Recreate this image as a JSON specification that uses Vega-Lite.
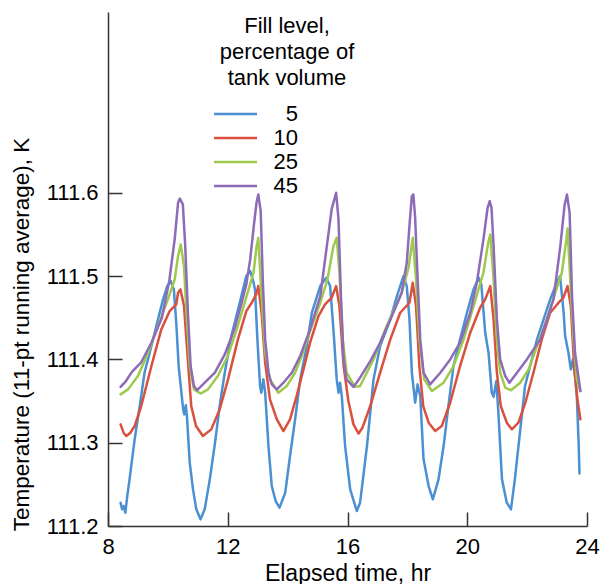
{
  "$schema": "https://vega.github.io/schema/vega-lite/v6.json",
  "width": 479,
  "height": 514,
  "autosize": {"type": "none"},
  "padding": {"left": 108, "top": 12, "right": 15, "bottom": 58},
  "background": "white",
  "config": {"view": {"stroke": null}, "font": "Liberation Sans"},
  "data": {
    "values": [
      {"f": "5",
       "t": [8.42,8.47,8.52,8.58,8.64,8.72,8.89,9.06,9.22,9.45,9.67,9.84,9.98,10.09,10.2,10.28,10.36,10.43,10.51,10.55,10.6,10.64,10.73,10.84,10.95,11.09,11.23,11.4,11.56,11.73,11.9,12.12,12.4,12.62,12.75,12.85,12.91,12.99,13.08,13.12,13.19,13.25,13.36,13.47,13.6,13.73,13.92,14.08,14.25,14.42,14.64,14.81,15.09,15.29,15.42,15.53,15.64,15.7,15.75,15.81,15.92,16.09,16.31,16.42,16.65,16.87,17.09,17.43,17.65,17.87,17.98,18.07,18.15,18.26,18.34,18.43,18.54,18.71,18.85,19.04,19.21,19.37,19.54,19.76,19.99,20.21,20.38,20.47,20.6,20.71,20.82,20.88,20.97,21.04,21.16,21.32,21.46,21.59,21.76,21.93,22.1,22.33,22.55,22.77,22.99,23.1,23.22,23.27,23.38,23.46,23.53,23.6,23.66,23.72,23.75],
       "T": [111.228,111.22,111.224,111.216,111.235,111.256,111.304,111.344,111.384,111.416,111.448,111.472,111.488,111.494,111.484,111.444,111.392,111.368,111.34,111.334,111.345,111.33,111.276,111.244,111.22,111.208,111.22,111.256,111.296,111.344,111.384,111.428,111.468,111.5,111.506,111.494,111.484,111.424,111.368,111.36,111.376,111.36,111.296,111.248,111.23,111.222,111.24,111.284,111.328,111.376,111.416,111.456,111.488,111.498,111.488,111.436,111.376,111.36,111.372,111.356,111.296,111.244,111.218,111.228,111.296,111.376,111.416,111.448,111.476,111.5,111.488,111.448,111.384,111.348,111.37,111.356,111.28,111.248,111.232,111.256,111.296,111.344,111.392,111.424,111.456,111.484,111.498,111.49,111.432,111.408,111.36,111.355,111.374,111.336,111.256,111.228,111.22,111.256,111.312,111.368,111.392,111.424,111.448,111.472,111.492,111.5,111.456,111.428,111.408,111.388,111.4,111.38,111.356,111.3,111.263]},
      {"f": "10",
       "t": [8.42,8.52,8.61,8.75,8.89,9.11,9.45,9.78,10.06,10.28,10.34,10.42,10.54,10.65,10.78,10.94,11.17,11.45,11.73,12.01,12.34,12.62,12.8,12.95,13.02,13.13,13.25,13.41,13.64,13.86,14.08,14.3,14.53,14.75,15.03,15.25,15.47,15.62,15.73,15.87,16.03,16.2,16.37,16.5,16.76,17.09,17.43,17.76,18.07,18.18,18.29,18.4,18.53,18.71,18.93,19.15,19.43,19.76,20.1,20.43,20.6,20.77,20.88,20.99,21.12,21.32,21.49,21.71,21.94,22.21,22.49,22.77,23.05,23.21,23.35,23.46,23.57,23.68,23.78],
       "T": [111.322,111.312,111.308,111.312,111.32,111.344,111.392,111.436,111.458,111.466,111.48,111.484,111.464,111.408,111.344,111.32,111.308,111.316,111.34,111.376,111.424,111.458,111.468,111.478,111.488,111.456,111.396,111.352,111.328,111.314,111.328,111.356,111.388,111.42,111.452,111.466,111.474,111.488,111.464,111.392,111.35,111.322,111.311,111.318,111.344,111.384,111.424,111.456,111.468,111.492,111.464,111.392,111.344,111.324,111.314,111.32,111.348,111.392,111.432,111.462,111.472,111.488,111.448,111.384,111.344,111.324,111.316,111.324,111.348,111.384,111.424,111.456,111.468,111.474,111.488,111.464,111.392,111.352,111.328]},
      {"f": "25",
       "t": [8.42,8.67,9.0,9.34,9.67,10.0,10.23,10.34,10.43,10.54,10.62,10.73,10.87,11.09,11.34,11.67,12.0,12.3,12.63,12.86,12.96,13.02,13.13,13.25,13.41,13.69,13.97,14.25,14.47,14.81,15.09,15.33,15.53,15.64,15.73,15.84,15.97,16.25,16.42,16.87,17.31,17.81,18.04,18.18,18.29,18.4,18.56,18.82,19.21,19.54,19.88,20.21,20.54,20.7,20.77,20.88,20.99,21.1,21.27,21.46,21.77,22.05,22.33,22.66,22.94,23.16,23.31,23.35,23.44,23.55,23.66,23.78],
       "T": [111.358,111.364,111.38,111.408,111.44,111.472,111.496,111.524,111.538,111.512,111.456,111.392,111.364,111.359,111.364,111.38,111.404,111.436,111.476,111.504,111.535,111.546,111.476,111.408,111.376,111.36,111.368,111.384,111.404,111.44,111.468,111.496,111.536,111.546,111.504,111.424,111.384,111.367,111.368,111.4,111.44,111.48,111.51,111.546,111.496,111.424,111.376,111.362,111.372,111.392,111.424,111.464,111.504,111.54,111.55,111.496,111.424,111.384,111.366,111.363,111.372,111.388,111.416,111.448,111.48,111.504,111.544,111.557,111.496,111.424,111.376,111.362]},
      {"f": "45",
       "t": [8.42,8.6,8.8,9.1,9.45,9.8,10.05,10.23,10.34,10.4,10.5,10.58,10.67,10.76,10.87,10.98,11.23,11.57,11.9,12.22,12.45,12.62,12.75,12.87,12.96,13.02,13.1,13.17,13.25,13.36,13.47,13.64,13.86,14.14,14.42,14.75,15.09,15.31,15.47,15.62,15.7,15.78,15.87,15.97,16.2,16.42,16.76,17.09,17.53,17.81,17.98,18.08,18.15,18.2,18.26,18.32,18.43,18.54,18.76,19.1,19.43,19.76,20.1,20.32,20.54,20.68,20.75,20.81,20.88,20.99,21.1,21.27,21.41,21.66,21.99,22.44,22.88,23.11,23.25,23.33,23.42,23.5,23.6,23.78],
       "T": [111.367,111.374,111.385,111.396,111.42,111.45,111.495,111.545,111.588,111.593,111.586,111.536,111.456,111.392,111.368,111.363,111.372,111.384,111.406,111.436,111.466,111.49,111.52,111.56,111.588,111.598,111.578,111.496,111.424,111.384,111.37,111.364,111.372,111.384,111.404,111.436,111.476,111.536,111.58,111.6,111.568,111.476,111.4,111.376,111.367,111.378,111.398,111.42,111.456,111.48,111.516,111.565,111.596,111.598,111.57,111.516,111.424,111.384,111.37,111.384,111.4,111.42,111.456,111.492,111.544,111.582,111.59,111.582,111.536,111.448,111.4,111.38,111.372,111.384,111.4,111.424,111.472,111.536,111.585,111.598,111.576,111.476,111.408,111.362]}
    ]
  },
  "transform": [{"flatten": ["t", "T"]}],
  "mark": {"type": "line", "strokeWidth": 2.5, "strokeJoin": "round", "strokeCap": "round"},
  "encoding": {
    "x": {
      "field": "t", "type": "quantitative",
      "scale": {"domain": [8, 24], "nice": false, "zero": false},
      "axis": {
        "title": "Elapsed time, hr", "values": [8, 12, 16, 20, 24], "grid": false,
        "tickSize": -14, "labelPadding": 24.5, "labelFlush": false,
        "labelFontSize": 22, "labelColor": "black", "labelFont": "Liberation Sans",
        "titleFontSize": 23, "titleFontWeight": "normal", "titleColor": "black", "titleFont": "Liberation Sans",
        "titleBaseline": "alphabetic", "titleY": 54,
        "domainColor": "#333333", "tickColor": "#333333", "domainWidth": 1.5, "tickWidth": 1.5
      }
    },
    "y": {
      "field": "T", "type": "quantitative",
      "scale": {"domain": [111.2, 111.817], "nice": false, "zero": false},
      "axis": {
        "title": "Temperature (11-pt running average), K", "values": [111.2, 111.3, 111.4, 111.5, 111.6], "grid": false,
        "format": ".1f",
        "tickSize": -14, "labelPadding": 24,
        "labelFontSize": 22, "labelColor": "black", "labelFont": "Liberation Sans",
        "titleFontSize": 22.5, "titleFontWeight": "normal", "titleColor": "black", "titleFont": "Liberation Sans",
        "titleAngle": 270, "titleAlign": "center", "titleBaseline": "alphabetic", "titleX": -80, "titleY": 322,
        "domainColor": "#333333", "tickColor": "#333333", "domainWidth": 1.5, "tickWidth": 1.5
      }
    },
    "color": {
      "field": "f", "type": "nominal",
      "scale": {"domain": ["5", "10", "25", "45"], "range": ["#4a90d2", "#d9503f", "#9dca4c", "#8e6bb8"]},
      "legend": {
        "orient": "none", "legendX": 112, "legendY": 4,
        "title": ["Fill level,", "percentage of", "tank volume"],
        "titleFontSize": 22, "titleFontWeight": "normal", "titleColor": "black", "titleFont": "Liberation Sans",
        "titleAlign": "center", "titleAnchor": "middle", "titleLineHeight": 26, "titlePadding": 12,
        "labelFontSize": 22, "labelColor": "black", "labelFont": "Liberation Sans",
        "labelAlign": "right",
        "symbolType": "M-2.51,0L1.49,0", "symbolSize": 462, "symbolStrokeWidth": 2.5,
        "symbolOffset": -47, "labelOffset": 45, "rowPadding": 1
      }
    }
  }
}
